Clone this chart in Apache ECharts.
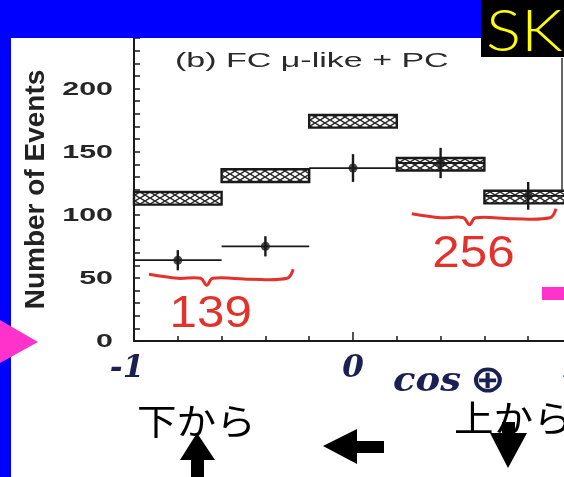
<!DOCTYPE html>
<html>
<head>
<meta charset="utf-8">
<script src="https://cdn.jsdelivr.net/npm/echarts@6/dist/echarts.min.js"></script>
<style>
  html, body { margin: 0; padding: 0; background: #0000ff; }
  #chart { width: 564px; height: 477px; }
</style>
</head>
<body>
<div id="chart"></div>
<script>
// zenith-angle bins (cos theta)
const binLow = [-1.0, -0.6, -0.2, 0.2, 0.6];
const binHigh = [-0.6, -0.2, 0.2, 0.6, 1.0];
const binCenter = [-0.8, -0.4, 0.0, 0.4, 0.8];
// Monte Carlo expectation (hatched boxes) and its half-height
const mcEvents = [113, 131, 174, 140, 114];
const mcError = [5, 5, 5, 5, 5];
// observed events with statistical errors
const dataEvents = [64, 75, 137, 141, 115];
const dataError = [8, 8, 11, 12, 11];
// y-axis tick labels
const yTickValues = [0, 50, 100, 150, 200];
// hand-written sums over groups of bins
const sumGroups = [[0, 1], [3, 4]];
const sumLabels = ['139', '256'];

const INK = '#1a1a1a';
const RED = '#e3322b';
const NAVY = '#1c1f52';

// cross-hatch tile for the expectation boxes
function hatchTile() {
  const c = document.createElement('canvas');
  c.width = 10; c.height = 6;
  const g = c.getContext('2d');
  g.fillStyle = '#ffffff';
  g.fillRect(0, 0, 10, 6);
  g.strokeStyle = '#2a2a2a';
  g.lineWidth = 1.5;
  g.beginPath();
  g.moveTo(-1, -0.6); g.lineTo(11, 6.6);
  g.moveTo(-1, 6.6); g.lineTo(11, -0.6);
  g.stroke();
  return c;
}
const hatch = { image: hatchTile(), repeat: 'repeat' };

const chart = echarts.init(document.getElementById('chart'), null, { renderer: 'canvas' });

const boxData = mcEvents.map((v, i) => [binLow[i], binHigh[i], v, mcError[i]]);
const pointData = dataEvents.map((v, i) => [binCenter[i], v, dataError[i], binLow[i], binHigh[i]]);

const option = {
  backgroundColor: '#ffffff',
  animation: false,
  grid: { left: 134, top: 38, width: 438, height: 303, outerBoundsMode: 'none', containLabel: false },
  xAxis: {
    type: 'value', min: -1, max: 1, interval: 1,
    axisLine: { onZero: false, lineStyle: { color: INK, width: 2 } },
    axisTick: { inside: true, length: 9, lineStyle: { color: INK, width: 1.5 } },
    minorTick: { show: true, splitNumber: 5, length: 5, lineStyle: { color: INK, width: 1.5 } },
    splitLine: { show: false },
    minorSplitLine: { show: false },
    axisLabel: {
      margin: 12,
      color: NAVY,
      fontFamily: 'DejaVu Serif',
      fontStyle: 'italic',
      fontWeight: 'bold',
      fontSize: 31,
      formatter: v => (v < 0 ? '{m|-1}' : String(v)),
      rich: { m: { padding: [0, 14, 0, 0], color: NAVY, fontFamily: 'DejaVu Serif', fontStyle: 'italic', fontWeight: 'bold', fontSize: 31 } }
    }
  },
  yAxis: {
    type: 'value', min: 0, max: 240, interval: 10,
    axisLine: { onZero: false, lineStyle: { color: INK, width: 2 } },
    axisTick: { inside: true, length: 6, lineStyle: { color: INK, width: 1.5 } },
    splitLine: { show: false },
    axisLabel: { show: false },
    name: 'Number of Events',
    nameLocation: 'middle',
    nameRotate: 90,
    nameGap: 84,
    nameTextStyle: { fontFamily: 'Liberation Sans', fontWeight: 'bold', fontSize: 28, color: '#222' }
  },
  series: [
    {
      // expectation boxes
      type: 'custom',
      data: boxData,
      encode: { x: [0, 1], y: 2 },
      renderItem: (params, api) => {
        const p0 = api.coord([api.value(0), api.value(2) + api.value(3)]);
        const p1 = api.coord([api.value(1), api.value(2) - api.value(3)]);
        return {
          type: 'rect',
          shape: { x: p0[0], y: p0[1], width: p1[0] - p0[0], height: p1[1] - p0[1] },
          style: { fill: hatch, stroke: INK, lineWidth: 2.4 }
        };
      },
      z: 2
    },
    {
      // error bars of the observed events
      type: 'custom',
      data: pointData,
      encode: { x: 0, y: 1 },
      renderItem: (params, api) => {
        const x = api.value(0), y = api.value(1), e = api.value(2);
        const lo = api.coord([x, y - e]), hi = api.coord([x, y + e]);
        const l = api.coord([api.value(3), y]), r = api.coord([api.value(4), y]);
        return {
          type: 'group',
          children: [
            { type: 'line', shape: { x1: lo[0], y1: lo[1], x2: hi[0], y2: hi[1] }, style: { stroke: INK, lineWidth: 2.4 } },
            { type: 'line', shape: { x1: l[0], y1: l[1], x2: r[0], y2: r[1] }, style: { stroke: INK, lineWidth: 1.8 } }
          ]
        };
      },
      z: 3
    },
    {
      type: 'scatter',
      data: dataEvents.map((v, i) => [binCenter[i], v]),
      symbol: 'circle',
      symbolSize: 9,
      itemStyle: { color: INK },
      z: 4
    },
    {
      // y tick labels, stretched like the printed figure
      type: 'custom',
      data: yTickValues.map(v => [-1, v]),
      encode: { x: 0, y: 1 },
      renderItem: (params, api) => {
        const p = api.coord([api.value(0), api.value(1)]);
        return {
          type: 'text',
          x: p[0] - 21, y: p[1] + 1,
          scaleX: 1.6,
          style: {
            text: String(api.value(1)),
            align: 'right', verticalAlign: 'middle',
            font: 'bold 19px "Liberation Sans", Arial, sans-serif',
            fill: '#262626'
          }
        };
      },
      z: 5
    },
    {
      // red braces with the summed counts
      type: 'custom',
      data: sumGroups.map((g, k) => [g[0], g[1], k]),
      encode: { x: 0, y: 1 },
      renderItem: (params, api) => {
        const a = api.value(0), b = api.value(1), k = api.value(2);
        let lowest = Infinity;
        for (let i = a; i <= b; i++) lowest = Math.min(lowest, dataEvents[i] - dataError[i]);
        const left = api.coord([binLow[a], lowest]);
        const right = api.coord([binHigh[b], lowest]);
        const x0 = left[0] + 15, x1 = right[0] - 16, y = left[1] + 7;
        const xd = x0 + (x1 - x0) * 0.4;
        const pts = [
          [x0, y - 3], [x0 + (xd - x0) * 0.5, y + 1], [xd - 6, y + 1], [xd, y + 8],
          [xd + 6, y + 1], [xd + (x1 - xd) * 0.5, y + 2], [x1 - 6, y + 1], [x1, y - 8]
        ];
        return {
          type: 'group',
          children: [
            { type: 'polyline', shape: { points: pts, smooth: 0.35 }, style: { stroke: RED, lineWidth: 3, fill: null } },
            {
              type: 'text', x: xd + 4, y: y + 38, scaleX: 1.12,
              style: {
                text: sumLabels[k], align: 'center', verticalAlign: 'middle',
                font: '44px "Liberation Sans", Arial, sans-serif', fill: RED
              }
            }
          ]
        };
      },
      z: 6
    }
  ],
  graphic: {
    elements: [
      // slide frame
      { type: 'rect', z: 100, shape: { x: 0, y: 0, width: 564, height: 38 }, style: { fill: '#0000ff' } },
      { type: 'rect', z: 100, shape: { x: 0, y: 0, width: 11, height: 477 }, style: { fill: '#0000ff' } },
      { type: 'rect', z: 101, shape: { x: 481, y: 0, width: 83, height: 57 }, style: { fill: '#000000' } },
      {
        type: 'text', z: 102, x: 486, y: 33, scaleX: 1.15,
        style: { text: 'SK', fill: '#ffff00', font: '300 57px Lato, "Liberation Sans", sans-serif', align: 'left', verticalAlign: 'middle' }
      },
      // right edge of the printed frame
      { type: 'line', z: 50, shape: { x1: 562, y1: 58, x2: 562, y2: 190 }, style: { stroke: '#333', lineWidth: 1.5 } },
      // panel title
      {
        type: 'text', z: 50, x: 175, y: 61, scaleX: 1.7,
        style: { text: '(b) FC \u03bc-like + PC', fill: '#2a2a2a', font: '20px "Liberation Sans", Arial, sans-serif', align: 'left', verticalAlign: 'middle' }
      },
      // axis title
      {
        type: 'text', z: 50, x: 393, y: 382, scaleX: 1.12,
        style: {
          text: '{c|cos}{t|\u2295}', align: 'left', verticalAlign: 'middle',
          rich: {
            c: { font: 'italic bold 33px "DejaVu Serif", serif', fill: NAVY },
            t: { font: 'bold 38px "DejaVu Sans", sans-serif', fill: NAVY, padding: [0, 0, 0, 8] }
          }
        }
      },
      // pointers
      { type: 'polygon', z: 100, shape: { points: [[0, 320], [38, 342], [0, 363]] }, style: { fill: '#ff33cc' } },
      { type: 'rect', z: 100, shape: { x: 542, y: 287, width: 22, height: 13 }, style: { fill: '#ff33cc' } },
      // direction captions
      {
        type: 'text', z: 60, x: 137, y: 421, scaleX: 1.1,
        style: { text: '下から', fill: '#000', font: '36px "Noto Sans CJK JP", sans-serif', align: 'left', verticalAlign: 'middle' }
      },
      {
        type: 'text', z: 60, x: 454, y: 418, scaleX: 1.1,
        style: { text: '上から', fill: '#000', font: '36px "Noto Sans CJK JP", sans-serif', align: 'left', verticalAlign: 'middle' }
      },
      { type: 'polygon', z: 61, shape: { points: [[197, 433], [215, 460], [204, 460], [204, 477], [191, 477], [191, 460], [180, 460]] }, style: { fill: '#000' } },
      { type: 'polygon', z: 61, shape: { points: [[323, 446], [357, 429], [357, 441], [384, 441], [384, 453], [357, 453], [357, 464]] }, style: { fill: '#000' } },
      { type: 'polygon', z: 61, shape: { points: [[502, 422], [515, 422], [515, 433], [527, 433], [508, 468], [490, 433], [502, 433]] }, style: { fill: '#000' } }
    ]
  }
};

chart.setOption(option);
</script>
</body>
</html>
